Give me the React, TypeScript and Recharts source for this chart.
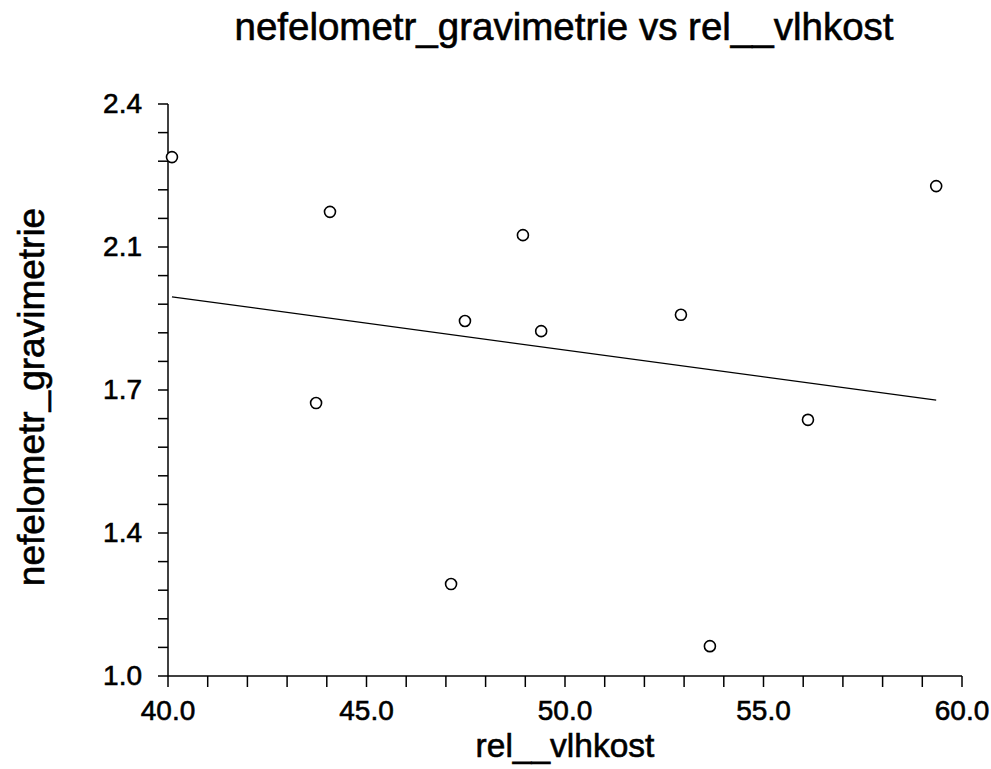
import { Scatter, ScatterChart, XAxis, YAxis } from "recharts";

const humidity = [40.1, 44.08, 48.94, 59.35, 47.48, 49.4, 52.92, 43.73, 56.12, 47.13, 53.65];
const ratio = [2.27, 2.136, 2.079, 2.199, 1.869, 1.844, 1.884, 1.668, 1.627, 1.225, 1.073];

// fitted line end points
const fitX = [40.1, 59.35];
const fitY = [1.928, 1.675];

const xTicks = [40, 41, 42, 43, 44, 45, 46, 47, 48, 49, 50, 51, 52, 53, 54, 55, 56, 57, 58, 59, 60];
const xMajorTicks = [40, 45, 50, 55, 60];
const xTickLabels = ["40.0", "45.0", "50.0", "55.0", "60.0"];

const yTicks = [
  1.0, 1.07, 1.14, 1.21, 1.28, 1.35, 1.42, 1.49, 1.56, 1.63, 1.7, 1.77, 1.84, 1.91, 1.98, 2.05, 2.12,
  2.19, 2.26, 2.33, 2.4,
];
const yMajorTicks = [1.0, 1.35, 1.7, 2.05, 2.4];
const yTickLabels = ["1.0", "1.4", "1.7", "2.1", "2.4"];

const points = humidity.map((x, i) => ({ x, y: ratio[i] }));
const fitLine = fitX.map((x, i) => ({ x, y: fitY[i] }));

const FONT = '"Liberation Sans", Arial, sans-serif';
// scanned-looking text is a bit heavier than plain regular
const inkText = { fill: "#000", stroke: "#000", strokeWidth: 0.6, fontFamily: FONT };

const findMajor = (list: number[], v: number) => list.findIndex((m) => Math.abs(m - v) < 1e-6);

const XTick = (props: any) => {
  const { x, y, payload } = props;
  const i = findMajor(xMajorTicks, payload.value);
  return (
    <g>
      <line x1={x} x2={x} y1={y} y2={y + 11} stroke="#000" strokeWidth={1.5} />
      {i >= 0 && (
        <text x={x} y={y + 44} textAnchor="middle" fontSize={28} {...inkText}>
          {xTickLabels[i]}
        </text>
      )}
    </g>
  );
};

const YTick = (props: any) => {
  const { x, y, payload } = props;
  const i = findMajor(yMajorTicks, payload.value);
  return (
    <g>
      <line x1={x - 10} x2={x} y1={y} y2={y} stroke="#000" strokeWidth={1.5} />
      {i >= 0 && (
        <text x={x - 26} y={y + 9} textAnchor="end" fontSize={28} {...inkText}>
          {yTickLabels[i]}
        </text>
      )}
    </g>
  );
};

const Dot = (p: any) => (
  <circle cx={p.cx} cy={p.cy} r={5.5} fill="#fff" stroke="#000" strokeWidth={1.6} />
);

export default function App() {
  return (
    <div style={{ position: "absolute", left: 0, top: 0, width: 991, height: 769, background: "#fff" }}>
      <ScatterChart width={991} height={769} margin={{ top: 104, right: 29, bottom: 0, left: 0 }}>
        <XAxis
          type="number"
          dataKey="x"
          domain={[40, 60]}
          ticks={xTicks}
          interval={0}
          height={93}
          tickSize={0}
          tickMargin={0}
          tick={<XTick />}
          axisLine={{ stroke: "#000", strokeWidth: 1.5 }}
        />
        <YAxis
          type="number"
          dataKey="y"
          domain={[1.0, 2.4]}
          ticks={yTicks}
          interval={0}
          width={168}
          tickSize={0}
          tickMargin={0}
          tick={<YTick />}
          axisLine={{ stroke: "#000", strokeWidth: 1.5 }}
        />
        <Scatter
          data={fitLine}
          line={{ stroke: "#000", strokeWidth: 1.2 }}
          shape={() => <g />}
          isAnimationActive={false}
        />
        <Scatter data={points} shape={<Dot />} isAnimationActive={false} />
      </ScatterChart>
      <svg
        width={991}
        height={769}
        style={{ position: "absolute", left: 0, top: 0, pointerEvents: "none" }}
      >
        <text x={564} y={40} textAnchor="middle" fontSize={38.5} {...inkText}>
          nefelometr_gravimetrie vs rel__vlhkost
        </text>
        <text x={565} y={757} textAnchor="middle" fontSize={33.5} {...inkText}>
          rel__vlhkost
        </text>
        <text
          x={44}
          y={397}
          transform="rotate(-90 44 397)"
          textAnchor="middle"
          fontSize={37}
          {...inkText}
        >
          nefelometr_gravimetrie
        </text>
      </svg>
    </div>
  );
}
